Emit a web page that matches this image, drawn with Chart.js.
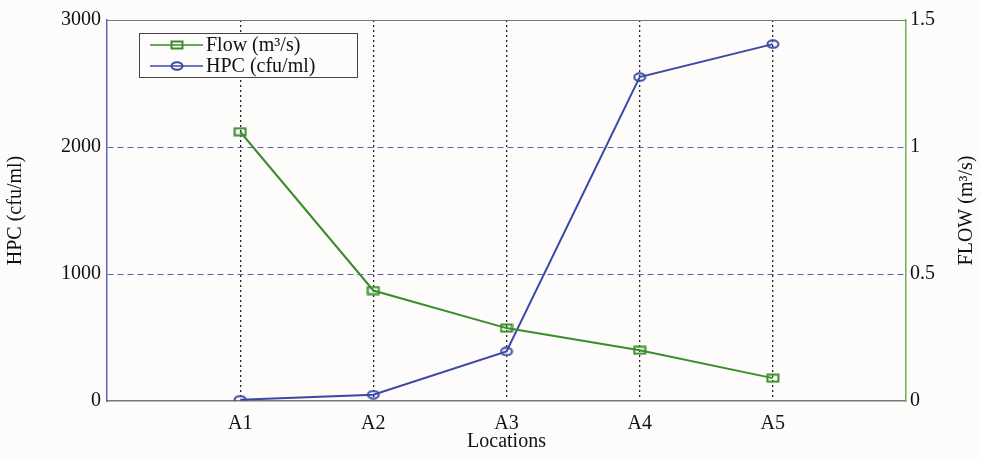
<!DOCTYPE html>
<html>
<head>
<meta charset="utf-8">
<script src="https://cdn.jsdelivr.net/npm/chart.js@4"></script>
<style>
  html, body { margin: 0; padding: 0; background: #fdfcfa; }
  #wrap { width: 981px; height: 458px; }
</style>
</head>
<body>
<div id="wrap"><canvas id="chart"></canvas></div>
<script>
const locations = ['A1', 'A2', 'A3', 'A4', 'A5'];
const flowValues = [1.06, 0.435, 0.287, 0.2, 0.09];
const hpcValues = [10, 50, 390, 2550, 2810];
const hpcTicks = [0, 1000, 2000, 3000];
const flowTicks = [0, 0.5, 1, 1.5];

const GREEN = '#3b8c2c';
const BLUE = '#3c48a6';
const FONT = 'Liberation Serif';

// hollow markers, a bit wider than tall like the matlab ones
function marker(kind, color) {
  const c = document.createElement('canvas');
  c.width = 14;
  c.height = 10;
  const g = c.getContext('2d');
  g.strokeStyle = color;
  g.lineWidth = 2;
  if (kind === 'rect') {
    g.strokeRect(1.5, 1.5, 11, 7);
  } else {
    g.beginPath();
    g.ellipse(7, 5, 5.5, 3.8, 0, 0, Math.PI * 2);
    g.stroke();
  }
  return c;
}
const flowMarker = marker('rect', GREEN);
const hpcMarker = marker('ellipse', BLUE);

// top border, right axis title and the legend box
const frameAndLegend = {
  id: 'frameAndLegend',
  afterDatasetsDraw(chart) {
    const { ctx, chartArea } = chart;
    ctx.save();
    ctx.strokeStyle = '#777';
    ctx.lineWidth = 1;
    ctx.beginPath();
    ctx.moveTo(chartArea.left, chartArea.top + 0.5);
    ctx.lineTo(chartArea.right, chartArea.top + 0.5);
    ctx.stroke();

    ctx.save();
    ctx.translate(967, (chartArea.top + chartArea.bottom) / 2);
    ctx.rotate(-Math.PI / 2);
    ctx.font = '20px ' + FONT;
    ctx.fillStyle = '#111';
    ctx.textAlign = 'center';
    ctx.textBaseline = 'middle';
    ctx.fillText('FLOW (m³/s)', 0, 0);
    ctx.restore();

    const bx = 139, by = 33, bw = 218, bh = 44;
    ctx.fillStyle = '#fdfcfa';
    ctx.fillRect(bx, by, bw, bh);
    ctx.strokeStyle = '#444';
    ctx.lineWidth = 1;
    ctx.strokeRect(bx + 0.5, by + 0.5, bw, bh);

    ctx.font = '20px ' + FONT;
    ctx.textBaseline = 'middle';
    chart.data.datasets.forEach((ds, i) => {
      const y = by + 12 + i * 21;
      ctx.strokeStyle = ds.borderColor;
      ctx.lineWidth = 1.5;
      ctx.beginPath();
      ctx.moveTo(150, y);
      ctx.lineTo(203, y);
      ctx.stroke();
      ctx.drawImage(ds.pointStyle, 170, y - 5);
      ctx.fillStyle = '#111';
      ctx.fillText(ds.label, 206, y + 1);
    });
    ctx.restore();
  }
};

new Chart(document.getElementById('chart'), {
  type: 'line',
  data: {
    datasets: [
      {
        label: 'Flow (m³/s)',
        data: flowValues.map((v, i) => ({ x: i + 1, y: v })),
        yAxisID: 'y2',
        borderColor: GREEN,
        borderWidth: 2,
        pointStyle: flowMarker,
      },
      {
        label: 'HPC (cfu/ml)',
        data: hpcValues.map((v, i) => ({ x: i + 1, y: v })),
        yAxisID: 'y',
        borderColor: BLUE,
        borderWidth: 2,
        pointStyle: hpcMarker,
      },
    ],
  },
  options: {
    responsive: true,
    maintainAspectRatio: false,
    animation: false,
    layout: { padding: { top: 20, right: 0, left: 0, bottom: 0 } },
    plugins: {
      legend: { display: false },
      tooltip: { enabled: false },
    },
    scales: {
      x: {
        type: 'linear',
        min: 0,
        max: locations.length + 1,
        afterBuildTicks: (axis) => {
          axis.ticks = [0, ...locations.map((_, i) => i + 1), locations.length + 1].map((v) => ({ value: v }));
        },
        afterFit: (axis) => { axis.height = 57; },
        ticks: {
          color: '#111',
          font: { family: FONT, size: 20 },
          padding: 11,
          maxRotation: 0,
          callback: (v) => locations[v - 1] || '',
        },
        grid: {
          drawTicks: false,
          color: (c) => (c.tick && c.tick.value > 0 && c.tick.value <= locations.length ? '#222' : 'rgba(0,0,0,0)'),
          lineWidth: 1.3,
        },
        border: { color: '#777', width: 1.5, dash: [2, 3] },
        title: {
          display: true,
          text: 'Locations',
          color: '#111',
          font: { family: FONT, size: 20 },
          padding: { top: -7 },
        },
      },
      y: {
        position: 'left',
        min: 0,
        max: 3000,
        afterBuildTicks: (axis) => { axis.ticks = hpcTicks.map((v) => ({ value: v })); },
        afterFit: (axis) => { axis.width = 107; },
        ticks: {
          color: '#111',
          font: { family: FONT, size: 20 },
          padding: 6,
          callback: (v) => String(v),
        },
        grid: {
          drawTicks: false,
          color: (c) => (c.tick && c.tick.value > 0 && c.tick.value < 3000 ? '#5a64b8' : 'rgba(0,0,0,0)'),
          lineWidth: 1,
        },
        border: { color: '#5a64b8', width: 1.5, dash: [6, 4] },
        title: {
          display: true,
          text: 'HPC (cfu/ml)',
          color: '#111',
          font: { family: FONT, size: 20 },
          padding: { bottom: 8 },
        },
      },
      y2: {
        position: 'right',
        min: 0,
        max: 1.5,
        afterBuildTicks: (axis) => { axis.ticks = flowTicks.map((v) => ({ value: v })); },
        afterFit: (axis) => { axis.width = 75; },
        ticks: {
          color: '#111',
          font: { family: FONT, size: 20 },
          padding: 4,
          callback: (v) => String(v),
        },
        grid: { display: false, drawTicks: false },
        border: { color: '#6db25a', width: 1.5 },
      },
    },
  },
  plugins: [frameAndLegend],
});
</script>
</body>
</html>
